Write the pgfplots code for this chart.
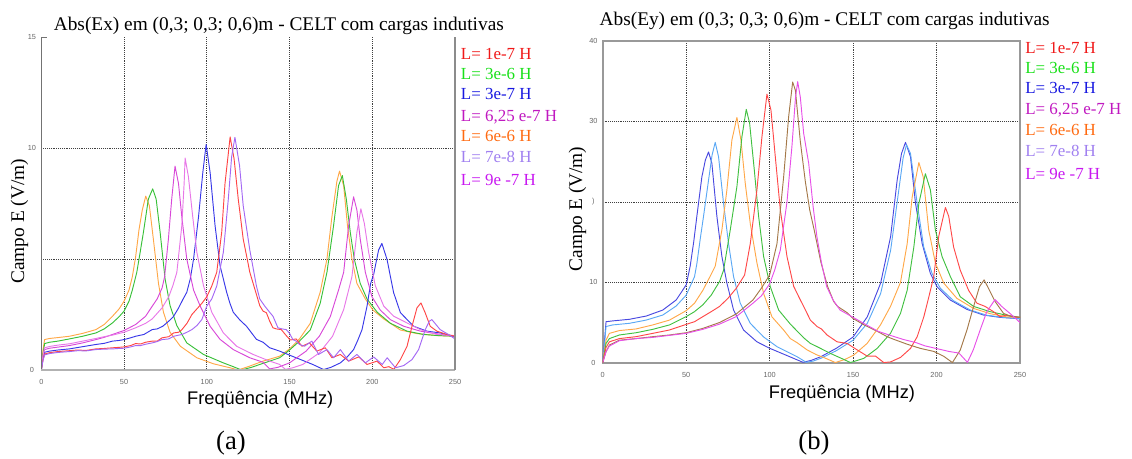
\documentclass[border=0pt]{standalone}
\usepackage{fontspec}
\setmainfont{Liberation Serif}
\newfontfamily\arialf{Liberation Sans}
\usepackage{pgfplots}
\pgfplotsset{compat=1.18}
\definecolor{aRed}{HTML}{FF4545}
\definecolor{aGreen}{HTML}{38C038}
\definecolor{aBlue}{HTML}{3838E8}
\definecolor{aPinkA}{HTML}{D848D8}
\definecolor{aPinkB}{HTML}{E878E8}
\definecolor{aPurple}{HTML}{A468F4}
\definecolor{aOrange}{HTML}{FFA848}
\definecolor{bDBlue}{HTML}{4848E0}
\definecolor{bLBlue}{HTML}{5AA8F5}
\definecolor{bOrange}{HTML}{FFA848}
\definecolor{bGreen}{HTML}{40C040}
\definecolor{bRed}{HTML}{FF4848}
\definecolor{bBrown}{HTML}{A47848}
\definecolor{bMag}{HTML}{E850E8}
\definecolor{lRed}{HTML}{F01818}
\definecolor{lGreen}{HTML}{18E018}
\definecolor{lBlue}{HTML}{1818E0}
\definecolor{lMag}{HTML}{C018C0}
\definecolor{lOrange}{HTML}{FF6A10}
\definecolor{lLav}{HTML}{A080F0}
\definecolor{lViolet}{HTML}{C818F0}
\pgfplotsset{
  myax/.style={
    anchor=south west, scale only axis,
    xmin=0, xmax=250, ymin=0,
    xtick={50,100,150,200}, extra x ticks={0,250}, extra x tick labels={0,250},
    extra x tick style={grid=none}, extra y tick style={grid=none},
    grid=major, major grid style={densely dotted, black!75, line width=0.5pt},
    major tick length=0pt,
    /pgf/number format/assume math mode=true,
    tick label style={font=\arialf\fontsize{5.5}{6}\selectfont, text=black!60},
    xticklabel style={anchor=center, yshift=-9pt},
    yticklabel style={anchor=center, xshift=-7pt},
    clip mode=individual,
    every axis plot/.append style={line width=0.7pt, line join=round, no markers},
  }
}
\begin{document}
\begin{tikzpicture}[x=0.75pt,y=0.75pt]
\path[use as bounding box] (0,0) rectangle (1132,459);
% ---------------- panel (a)
\begin{axis}[myax, at={(30.98pt,66.75pt)}, width=310.3pt, height=249.75pt,
  ymax=15, ytick={5,10}, yticklabels={,10}, extra y ticks={0,15}, extra y tick labels={0,15},
  axis line style={draw=none}]
\addplot[aOrange] coordinates {(0,0) (1,0.9) (2,1.37) (5,1.42) (10,1.46) (17,1.52) (25,1.65) (33,1.82) (38,2.05) (43,2.42) (47,2.75) (50,3.1) (53,3.6) (55,4.2) (57,5.1) (59,6.3) (61,7.2) (63.1,7.83) (65.3,7.4) (67.7,5.9) (70.8,3.9) (73.8,2.6) (77.8,1.7) (84,1.07) (94,0.55) (104,0.28) (114,0.1) (119,0) (125,0.15) (134,0.4) (144,0.62) (150,0.95) (156,1.4) (162.5,2.1) (168.5,3.5) (172.6,5.0) (175.6,6.9) (178.6,8.5) (180.2,8.96) (182.7,8.3) (185,6.5) (187.7,5.0) (190.7,3.9) (195.8,3.2) (200.4,2.7) (206.9,2.3) (217,1.8) (227,1.64) (239,1.55) (250,1.52)};
\addplot[aGreen] coordinates {(0,0) (1,0.7) (2,1.19) (5,1.25) (10,1.3) (17,1.4) (25,1.52) (33,1.67) (38,1.85) (43,2.12) (47,2.4) (50,2.65) (53,3.1) (55,3.6) (57.7,4.4) (59.5,5.2) (61.7,6.2) (64.7,7.7) (67.3,8.16) (69.4,7.7) (71.8,6.2) (74.8,4.1) (77.8,2.9) (81.9,2.0) (87.9,1.22) (98,0.7) (110,0.32) (116,0.15) (121,0) (127,0.12) (134,0.3) (144,0.55) (150,0.9) (156,1.3) (162.5,1.8) (168.5,3.0) (172.6,4.4) (176.6,6.5) (179.6,8.3) (181.9,8.76) (184.3,7.7) (186.7,6.2) (189.1,5.0) (192.7,3.9) (196.8,3.2) (203,2.6) (211,2.1) (221,1.75) (231,1.6) (240,1.55) (250,1.52)};
\addplot[aBlue] coordinates {(0,0) (1,0.5) (2,0.8) (5,0.85) (10,0.9) (17,0.95) (25,1.05) (33,1.15) (38,1.2) (43,1.3) (47,1.33) (50,1.37) (54,1.45) (57,1.52) (62,1.6) (67,1.82) (70,1.85) (73.4,1.97) (77,2.2) (79.8,2.4) (83,2.8) (85.5,3.17) (87.9,3.5) (90,4.1) (92,5.0) (95,6.9) (97.6,8.9) (99.6,10.16) (102,8.9) (105,6.5) (108,4.7) (112,3.5) (114,3.0) (116,2.6) (120,2.25) (124,1.97) (130,1.38) (134,1.25) (138,1.0) (144,0.85) (154,0.55) (164,0.25) (170.6,0.02) (175,0.12) (180.7,0.32) (185,0.6) (188.7,0.92) (191,1.3) (193.8,1.82) (196.8,2.87) (199,3.9) (200.8,4.3) (203.8,5.4) (205.8,5.7) (208.9,4.98) (212.9,3.48) (217,2.58) (225,1.97) (233,1.75) (241,1.67) (250,1.5)};
\addplot[aPinkA] coordinates {(0,0) (1,0.6) (2,0.92) (5,0.98) (10,1.03) (17,1.1) (25,1.22) (33,1.37) (38,1.47) (43,1.6) (50,1.78) (57,2.05) (63,2.42) (67,2.87) (70,3.2) (73,3.7) (74.5,4.2) (76.8,5.9) (78.8,7.7) (80.8,9.18) (82.9,8.4) (84.9,6.9) (87.9,5.0) (92,3.6) (96,2.88) (102,1.97) (108,1.38) (116,0.92) (126,0.55) (134,0.35) (138,0.05) (143,0.12) (150,0.32) (160,0.85) (168,1.52) (174.6,2.4) (179.6,3.6) (182.7,4.4) (185.7,6.5) (188.7,7.8) (190.7,7.2) (192.7,5.9) (195.8,4.4) (199.8,3.3) (204.8,2.7) (210.9,2.27) (219,1.97) (229,1.75) (239,1.63) (250,1.52)};
\addplot[aPinkB] coordinates {(0,0) (1,0.65) (2,1.0) (5,1.06) (10,1.12) (17,1.18) (25,1.3) (33,1.42) (38,1.5) (43,1.57) (50,1.7) (57,1.9) (63,2.1) (67,2.3) (73,2.8) (77,3.3) (79.5,3.8) (81.9,4.4) (84.9,6.5) (86.3,8.4) (86.9,9.55) (88.9,8.7) (91.5,6.9) (94,5.3) (98,3.8) (103,2.6) (110,1.67) (118,1.07) (128,0.7) (138,0.4) (144,0.25) (147.5,0.03) (152,0.1) (158,0.25) (168,0.77) (176,1.52) (182.7,2.72) (186.7,3.9) (187.7,4.2) (190.7,6.2) (193.1,7.26) (195.2,6.6) (197.8,5.3) (201.8,3.8) (206.9,2.88) (213,2.42) (221,2.12) (229,1.82) (239,1.6) (250,1.55)};
\addplot[aRed] coordinates {(0,0) (1,0.45) (2,0.72) (5,0.78) (10,0.83) (17,0.87) (22,0.9) (27,0.88) (33,0.95) (38,0.97) (43,1.0) (47,1.02) (50,1.04) (54,1.1) (57,1.19) (60,1.17) (63,1.25) (67,1.3) (70,1.3) (73,1.45) (77,1.5) (80,1.67) (83,1.7) (85,1.82) (88,2.1) (91,2.5) (94,2.75) (97,3.0) (100,3.3) (103,3.78) (106,4.4) (109,6.2) (111,8.4) (114.1,10.5) (116.5,9.5) (119,7.7) (122,5.9) (126,4.4) (128,3.9) (130,3.4) (132,2.9) (134,2.65) (136,2.58) (138,2.2) (140,1.9) (142,1.85) (145,1.82) (148,1.55) (150.4,1.35) (154,1.4) (157.5,1.07) (162,1.22) (166.5,0.85) (171.6,1.0) (175.6,0.55) (180.7,0.7) (185.7,0.4) (191.8,0.59) (196.8,0.25) (202.8,0.4) (207,0.1) (210,0.15) (213,0.03) (217,0.47) (221,1.07) (224,1.97) (227,2.8) (229.4,3.02) (232,2.57) (235,1.97) (239,1.75) (245,1.6) (250,1.52)};
\addplot[aPurple] coordinates {(0,0) (1,0.42) (2,0.68) (5,0.74) (10,0.79) (17,0.83) (22,0.87) (27,0.86) (33,0.92) (38,0.94) (43,0.95) (47,0.97) (50,0.98) (54,1.04) (57,1.1) (60,1.1) (63,1.16) (67,1.22) (70,1.28) (73,1.37) (77,1.4) (80,1.52) (85,1.6) (88,1.7) (91,1.82) (94,2.0) (97,2.27) (100,2.88) (103,3.2) (106,3.78) (110,5.3) (113,7.7) (115,9.6) (117,10.48) (119.8,9.2) (122,7.4) (126,5.4) (130,3.78) (132,3.2) (135,2.88) (138,2.6) (140,2.42) (143,1.9) (145.5,1.85) (148,1.82) (150,1.65) (152,1.37) (154,1.3) (156,1.15) (159,1.07) (163.5,1.3) (167.5,0.7) (172.6,0.92) (176.6,0.55) (180.7,0.92) (185.7,0.4) (190.7,0.7) (195.8,0.32) (200.8,0.59) (206,0.25) (209,0.55) (214,0.1) (219,0.2) (224,0.47) (228,0.92) (232,1.82) (234.5,2.2) (236,2.27) (241,1.82) (246,1.6) (250,1.4)};
\draw[black!55, line width=0.75pt] (rel axis cs:0,0) -- (rel axis cs:0,1);
\draw[black!55, line width=0.6pt] (rel axis cs:0,1) -- ++(4pt,0);
\draw[black!30, line width=1.8pt] (rel axis cs:0,0) -- (rel axis cs:1,0);
\draw[black!45, line width=1pt] (rel axis cs:1,0) -- (rel axis cs:1,1);
\end{axis}
% ---------------- panel (b)
\begin{axis}[myax, at={(452.03pt,72.2pt)}, width=312.98pt, height=241.3pt,
  ymax=40, ytick={10,20,30}, yticklabels={10,{)},30}, extra y ticks={0,40}, extra y tick labels={0,40},
  axis line style={black!40, line width=1.2pt}]
\addplot[bDBlue] coordinates {(0,0) (1,2.5) (2,5.1) (6,5.2) (16,5.4) (26,5.8) (36,6.55) (44,7.8) (50,9.67) (52.4,12.0) (54.5,15) (56.4,18.2) (59.4,23.1) (61.5,25.2) (63.4,26.2) (65.4,24.8) (68.4,18.2) (71.4,13.2) (74.4,9.9) (78.4,6.55) (84.4,4.06) (92.4,2.6) (100,1.8) (112,0.75) (116,0.4) (120,0.05) (125,0.3) (130.7,0.75) (140,1.8) (150,3.2) (158.5,5.7) (166.5,9.9) (172.5,15.7) (176.4,22.7) (179,26) (181.4,27.4) (184.4,25.6) (187.4,19.8) (191.4,14.8) (196.3,11.1) (200.3,9.45) (208.2,7.8) (218.2,6.63) (228.1,5.93) (238,5.64) (250,5.47)};
\addplot[bLBlue] coordinates {(0,0) (1,2.2) (2,4.5) (6,4.7) (16,4.9) (26,5.3) (36,5.93) (44,7.05) (50,8.4) (55,10.7) (56.4,12.3) (58.5,15.5) (60.4,18.2) (63.4,22.7) (65.5,25.8) (67.4,27.4) (69.4,25.6) (72.4,19.8) (75.4,14.8) (78.4,10.7) (82.4,7.4) (88.4,4.9) (96.4,3.2) (104.4,2.0) (116.4,0.75) (122,0.05) (126,0.2) (130.7,0.55) (140,1.5) (150,2.8) (158.5,4.9) (166.5,8.6) (172.5,14.0) (177.4,21.5) (180,25.5) (182,27.1) (184.4,26.0) (188.4,19.8) (192.3,14.4) (197.3,11.1) (202.3,9.25) (210.2,7.7) (220.2,6.55) (230.1,5.9) (240,5.64) (250,5.47)};
\addplot[bOrange] coordinates {(0,0) (1,1.5) (2,2.8) (4,3.65) (10,4.0) (20,4.2) (30,4.7) (40,5.3) (50,6.47) (55,7.4) (60,9.0) (65,11.0) (67.4,12.0) (71.4,16.5) (74.4,21.5) (77.4,27.7) (80.4,30.5) (82.8,27.7) (85.4,22.3) (88.4,17.3) (92.4,12.4) (96.4,8.6) (101.4,5.7) (108.4,4.06) (112.4,3.0) (116.4,2.5) (122.4,1.6) (128,1.0) (133,0.6) (139.4,0.02) (145,0.4) (150.4,0.95) (158.4,2.4) (166.4,4.7) (172.4,7.0) (178.4,10.0) (182.4,14.8) (185.4,20.6) (189.4,24.9) (192,23.1) (195.3,16.5) (199.3,12.4) (204.3,9.9) (212.2,8.0) (222.2,6.75) (232.1,6.1) (242,5.7) (250,5.64)};
\addplot[bGreen] coordinates {(0,0) (1,1.2) (2,2.4) (4,3.0) (10,3.45) (20,3.73) (30,4.15) (40,4.7) (50,5.73) (55,6.35) (60,7.2) (65,8.4) (70,10.1) (72.4,11.5) (76.4,16.5) (80.4,21.9) (83.4,28.1) (86,31.5) (88,29.8) (90.8,24.0) (93.4,18.2) (96.4,13.2) (100.4,9.45) (105.4,6.55) (112.4,4.8) (120.4,3.1) (124.4,2.4) (128.4,2.0) (136.4,1.16) (144.4,0.41) (148.4,0.02) (156.4,0.54) (164.4,1.78) (172.4,3.65) (178.4,6.14) (182.4,9.0) (186.4,14.4) (189.4,19.8) (193.3,23.5) (196.3,21.5) (199.3,16.5) (203.3,13.2) (208.3,10.7) (214.2,8.2) (222.2,7.0) (232.1,6.35) (242,5.9) (250,5.64)};
\addplot[bRed] coordinates {(0,0) (1,1.0) (2,1.9) (4,2.6) (10,3.0) (20,3.24) (30,3.65) (40,4.07) (50,4.77) (55,5.1) (60,5.73) (65,6.35) (70,7.0) (75,8.0) (80,9.25) (85,10.9) (88.4,14.8) (92.4,21.5) (95.4,28.1) (98.4,33.4) (100.8,31.4) (103.4,25.6) (106.4,19.0) (110.4,13.2) (114.4,9.5) (118.4,7.8) (120.4,7.0) (124.4,5.3) (128.4,4.5) (131,4.2) (134.4,3.45) (140.4,2.6) (146.4,2.4) (152.4,1.6) (158.4,0.83) (163.4,0.83) (168.4,0.02) (172.4,0.1) (178.4,0.66) (184.4,1.78) (188.4,3.24) (192.4,5.73) (195.4,8.2) (198.3,10.7) (201.3,15.7) (205.3,19.3) (207.3,18.2) (210.2,14.4) (214.2,11.5) (219.2,9.0) (224.2,7.4) (229.1,7.0) (234.1,6.35) (238,5.73) (242,5.93) (246,5.7) (250,5.64)};
\addplot[bBrown] coordinates {(0,0) (1,0.7) (2,1.37) (4,2.2) (10,2.8) (20,3.0) (30,3.24) (40,3.45) (50,3.73) (60,4.27) (70,5.0) (80,6.06) (90,7.8) (95,9.25) (100,10.9) (104.4,14.8) (108.4,23.1) (111.4,30.6) (113.8,34.9) (115.4,33.9) (118.4,27.5) (121.4,22.5) (124,19) (126.7,16.5) (130.7,12.5) (134.7,9.5) (138.4,7.6) (140.7,7.0) (146.6,6.2) (150,5.5) (156.6,4.7) (164.5,3.9) (170.4,3.24) (174.5,2.9) (182.4,2.3) (190,1.8) (198.4,1.4) (204.3,0.8) (209.5,0.02) (214.2,1.58) (218.2,4.06) (222.2,7.0) (225.7,9.45) (228.5,10.3) (231.1,9.25) (235.1,7.6) (240.1,6.14) (244,5.8) (250,5.64)};
\addplot[bMag] coordinates {(0,0) (1,0.7) (2,1.37) (4,2.07) (10,2.74) (20,3.0) (30,3.15) (40,3.4) (50,3.65) (60,4.15) (70,4.8) (80,5.73) (90,7.4) (95,8.3) (100,9.8) (103,11.5) (106.4,14) (110.4,20) (113.4,27) (115.5,33) (116.8,34.95) (118.4,33) (120.4,28.5) (123.4,24.8) (126,19.5) (128.3,15.7) (131,12.5) (134.2,9.45) (138,7.8) (142.2,6.55) (149.5,5.7) (158,4.7) (165,3.9) (173.8,3.3) (180,2.9) (187.7,2.5) (193,2.1) (199.6,1.78) (207.5,1.4) (213.4,1.2) (218.5,0.05) (222,1.6) (226,4.0) (230,6.3) (235,7.85) (239.2,6.97) (245.1,5.93) (250,5.0)};
\end{axis}
% ---------------- titles
\node[anchor=base west, inner sep=0pt, font=\fontsize{14.5}{16}\selectfont] at (53.6,428.3) {Abs(Ex) em (0,3; 0,3; 0,6)m - CELT com cargas indutivas};
\node[anchor=base west, inner sep=0pt, font=\fontsize{14.5}{16}\selectfont] at (599.4,433) {Abs(Ey) em (0,3; 0,3; 0,6)m - CELT com cargas indutivas};
% ---------------- axis labels
\node[anchor=base, inner sep=0pt, font=\arialf\fontsize{13.7}{16}\selectfont] at (260.2,54) {Freqüência (MHz)};
\node[anchor=base, inner sep=0pt, font=\arialf\fontsize{13.7}{16}\selectfont] at (842,60) {Freqüência (MHz)};
\node[anchor=base, inner sep=0pt, rotate=90, font=\fontsize{14.5}{16}\selectfont] at (24,237.7) {Campo E (V/m)};
\node[anchor=base, inner sep=0pt, rotate=90, font=\fontsize{14.5}{16}\selectfont] at (582,250) {Campo E (V/m)};
% ---------------- legends
\begin{scope}[every node/.style={anchor=base west, inner sep=0pt, font=\fontsize{12.7}{14}\selectfont}]
\node[text=lRed] at (460.7,399.7) {L= 1e-7 H};
\node[text=lGreen] at (460.7,379.7) {L= 3e-6 H};
\node[text=lBlue] at (460.7,359) {L= 3e-7 H};
\node[text=lMag] at (460.7,337.3) {L= 6,25 e-7 H};
\node[text=lOrange] at (460.7,317.3) {L= 6e-6 H};
\node[text=lLav] at (460.7,296.3) {L= 7e-8 H};
\node[text=lViolet] at (460.7,273.3) {L= 9e -7 H};
\node[text=lRed] at (1025,405.7) {L= 1e-7 H};
\node[text=lGreen] at (1025,385.7) {L= 3e-6 H};
\node[text=lBlue] at (1025,365) {L= 3e-7 H};
\node[text=lMag] at (1025,344) {L= 6,25 e-7 H};
\node[text=lOrange] at (1025,323.3) {L= 6e-6 H};
\node[text=lLav] at (1025,302.3) {L= 7e-8 H};
\node[text=lViolet] at (1025,279.7) {L= 9e -7 H};
\end{scope}
% ---------------- captions
\node[anchor=base, inner sep=0pt, font=\fontsize{20}{22}\selectfont] at (231,9) {(a)};
\node[anchor=base, inner sep=0pt, font=\fontsize{20}{22}\selectfont] at (814,9) {(b)};
\end{tikzpicture}
\end{document}
